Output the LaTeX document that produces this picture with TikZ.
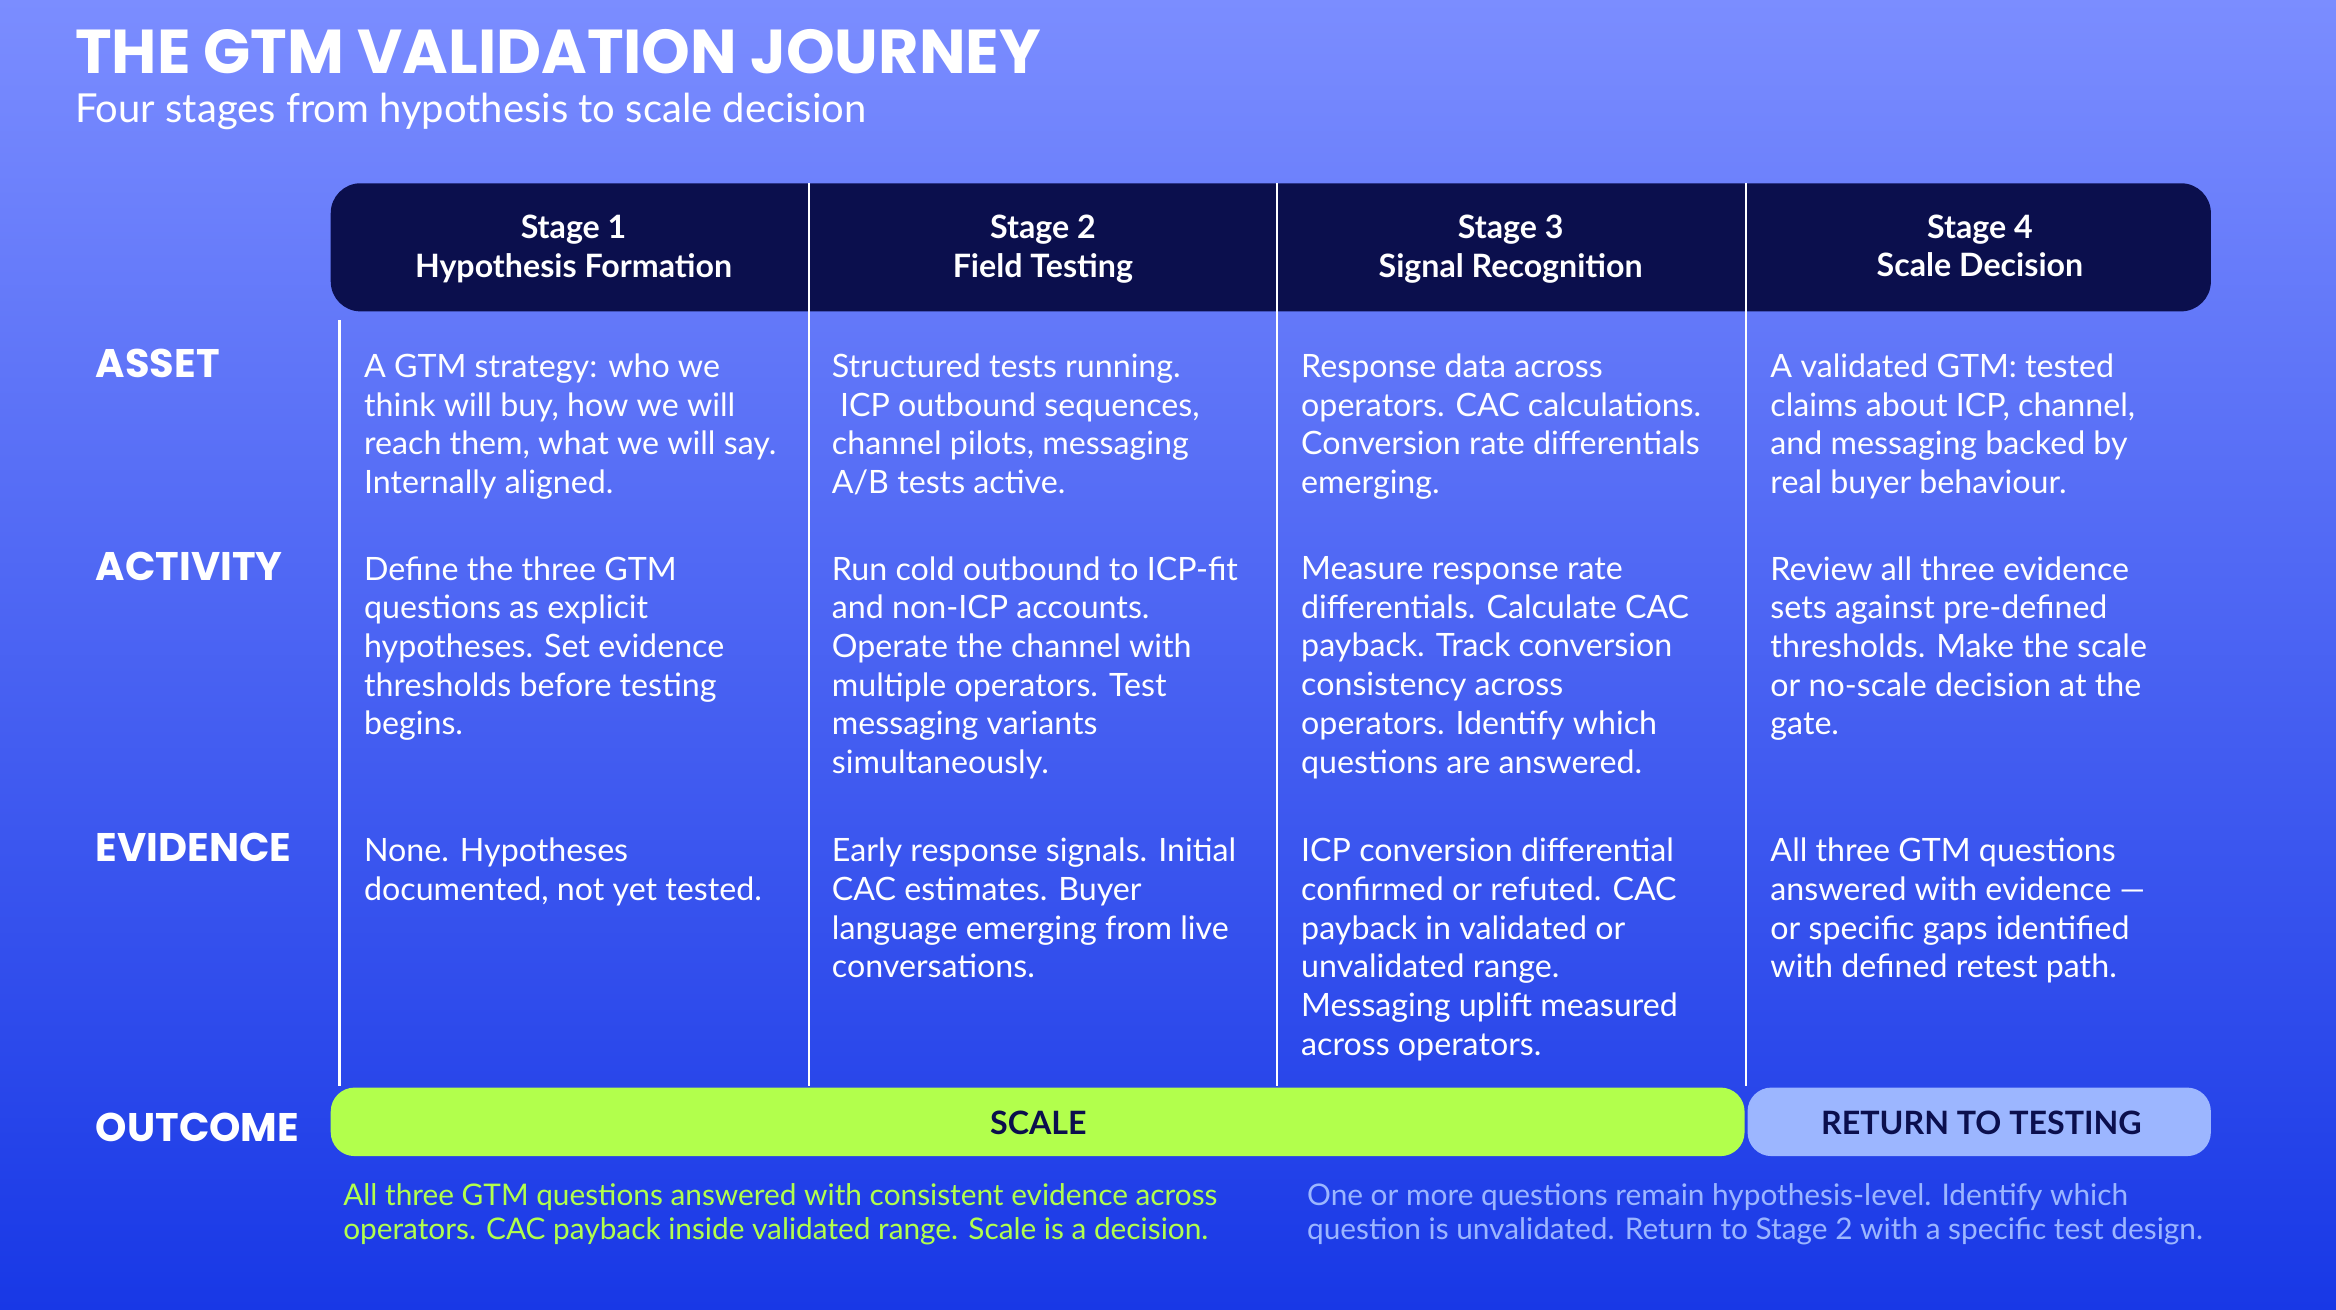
\documentclass[tikz,border=0pt]{standalone}
\usepackage{fontspec}
\setmainfont{Lato}
\newfontfamily\headfont{Poppins}
\definecolor{bgtop}{HTML}{7B8DFF}
\definecolor{bgbot}{HTML}{1838E6}
\definecolor{navy}{HTML}{0B0F4D}
\definecolor{lime}{HTML}{B2FF4C}
\definecolor{sky}{HTML}{9CB6FF}
\tikzset{
  cell/.style={anchor=north west, align=left, inner sep=0pt,
    text=white, font=\fontsize{10.8}{13}\selectfont},
  rowlabel/.style={anchor=west, inner sep=0pt, text=white,
    font=\headfont\bfseries\fontsize{13.4}{15}\selectfont},
  stagehead/.style={align=center, text=white, inner sep=0pt,
    font=\bfseries\fontsize{10.8}{13}\selectfont},
  divider/.style={white, line width=0.8pt},
  foot/.style={anchor=north west, align=left, inner sep=0pt,
    font=\fontsize{10}{11.5}\selectfont}
}
\begin{document}
\begin{tikzpicture}[x=0.5pt,y=-0.5pt]
\useasboundingbox (0,0) rectangle (1568,879);
\shade[top color=bgtop, bottom color=bgbot] (0,0) rectangle (1568,879);
% title
\node[anchor=west, inner sep=0pt, text=white, font=\headfont\bfseries\fontsize{20.8}{24}\selectfont] (title) at (50,35) {THE GTM VALIDATION JOURNEY};
\node[anchor=west, inner sep=0pt, text=white, font=\fontsize{13.4}{15}\selectfont] (subtitle) at (50,75) {Four stages from hypothesis to scale decision};
% header
\fill[navy, rounded corners=10pt] (222,123) rectangle (1484,209);
\coordinate (d0t) at (228,215); \coordinate (d0b) at (228,729);
\coordinate (d1t) at (543,123); \coordinate (d1b) at (543,729);
\coordinate (d2t) at (857,123); \coordinate (d2b) at (857,729);
\coordinate (d3t) at (1172,123); \coordinate (d3b) at (1172,729);
\foreach \d in {d0,d1,d2,d3} \draw[divider] (\d t) -- (\d b);
\node[stagehead] (s1) at (385,167) {Stage 1\\Hypothesis Formation};
\node[stagehead] (s2) at (700,167) {Stage 2\\Field Testing};
\node[stagehead] (s3) at (1014,167) {Stage 3\\Signal Recognition};
\node[stagehead] (s4) at (1329,165) {Stage 4\\Scale Decision};
% row labels
\node[rowlabel] (asset) at (64,244) {ASSET};
\node[rowlabel] (activity) at (64,380) {ACTIVITY};
\node[rowlabel] (evidence) at (64,569) {EVIDENCE};
\node[rowlabel] (outcome) at (64,757) {OUTCOME};
% asset row
\node[cell] (a1) at (244,237) {A GTM strategy: who we\\think will buy, how we will\\reach them, what we will say.\\Internally aligned.};
\node[cell] (a2) at (558,237) {Structured tests running.\\\ ICP outbound sequences,\\channel pilots, messaging\\A/B tests active.};
\node[cell] (a3) at (873,237) {Response data across\\operators. CAC calculations.\\Conversion rate differentials\\emerging.};
\node[cell] (a4) at (1188,237) {A validated GTM: tested\\claims about ICP, channel,\\and messaging backed by\\real buyer behaviour.};
% activity row
\node[cell] (b1) at (244,373) {Define the three GTM\\questions as explicit\\hypotheses. Set evidence\\thresholds before testing\\begins.};
\node[cell] (b2) at (558,373) {Run cold outbound to ICP-fit\\and non-ICP accounts.\\Operate the channel with\\multiple operators. Test\\messaging variants\\simultaneously.};
\node[cell] (b3) at (873,373) {Measure response rate\\differentials. Calculate CAC\\payback. Track conversion\\consistency across\\operators. Identify which\\questions are answered.};
\node[cell] (b4) at (1188,373) {Review all three evidence\\sets against pre-defined\\thresholds. Make the scale\\or no-scale decision at the\\gate.};
% evidence row
\node[cell] (c1) at (244,562) {None. Hypotheses\\documented, not yet tested.};
\node[cell] (c2) at (558,562) {Early response signals. Initial\\CAC estimates. Buyer\\language emerging from live\\conversations.};
\node[cell] (c3) at (873,562) {ICP conversion differential\\confirmed or refuted. CAC\\payback in validated or\\unvalidated range.\\Messaging uplift measured\\across operators.};
\node[cell] (c4) at (1188,562) {All three GTM questions\\answered with evidence —\\or specific gaps identified\\with defined retest path.};
% outcome
\fill[lime, rounded corners=8pt] (222,730) rectangle (1171,776);
\fill[sky, rounded corners=8pt] (1173,730) rectangle (1484,776);
\node[font=\bfseries\fontsize{10.8}{13}\selectfont, text=navy] (scale) at (697,754) {SCALE};
\node[font=\bfseries\fontsize{10.8}{13}\selectfont, text=navy] (retest) at (1330,754) {RETURN TO TESTING};
\node[foot, text=lime] (fscale) at (230,794) {All three GTM questions answered with consistent evidence across\\operators. CAC payback inside validated range. Scale is a decision.};
\node[foot, text=sky] (fretest) at (877,794) {One or more questions remain hypothesis-level. Identify which\\question is unvalidated. Return to Stage 2 with a specific test design.};
\end{tikzpicture}
\end{document}
